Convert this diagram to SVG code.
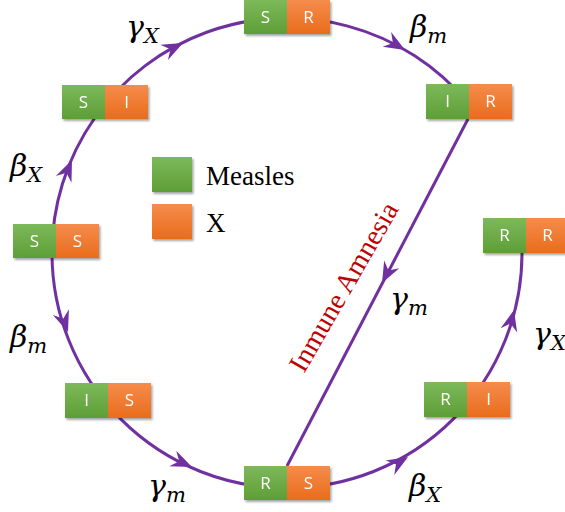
<svg xmlns="http://www.w3.org/2000/svg" xmlns:xlink="http://www.w3.org/1999/xlink" width="565" height="512" viewBox="0 0 565 512">
<defs>
<linearGradient id="gG" x1="0" y1="0" x2="0" y2="1"><stop offset="0" stop-color="#7DB95A"/><stop offset="1" stop-color="#5E9E36"/></linearGradient>
<linearGradient id="gO" x1="0" y1="0" x2="0" y2="1"><stop offset="0" stop-color="#F58C4C"/><stop offset="1" stop-color="#E96C1C"/></linearGradient>
<filter id="sh" x="-10%" y="-10%" width="130%" height="140%"><feDropShadow dx="1.5" dy="2" stdDeviation="1.2" flood-color="#000" flood-opacity="0.35"/></filter>
<path id="ah" d="M0,0 L-21,-8.5 L-14,0 L-21,8.5 Z" fill="#7030A0"/>
</defs>
<style>
.ln{fill:none;stroke:#7030A0;stroke-width:3}
.g{fill:url(#gG)}
.o{fill:url(#gO)}
.nt{font-family:"Open Sans","Liberation Sans",sans-serif;font-size:17px;fill:#fff;text-anchor:middle}
.m{font-family:"DejaVu Serif","Liberation Serif",serif;font-style:italic;font-size:30px;fill:#000}
.sub{font-size:21px}
.lg{font-family:"Liberation Serif","Times New Roman",serif;font-size:27px;fill:#000}
.am{font-family:"Liberation Serif","Times New Roman",serif;font-size:28px;fill:#C00000}
</style>
<g id="connectors">
<path class="ln" d="M52 253 A235 235 0 0 1 467 102"/>
<path class="ln" d="M52 253 A235 235 0 0 0 522 253"/>
<line class="ln" x1="468" y1="119" x2="287" y2="466"/>
<use xlink:href="#ah" transform="translate(183,43) rotate(-26.4)"/>
<use xlink:href="#ah" transform="translate(405,50) rotate(30.2)"/>
<use xlink:href="#ah" transform="translate(72,160) rotate(-66.6)"/>
<use xlink:href="#ah" transform="translate(68,332) rotate(70.2)"/>
<use xlink:href="#ah" transform="translate(192,467) rotate(23.9)"/>
<use xlink:href="#ah" transform="translate(408,457) rotate(-30.7)"/>
<use xlink:href="#ah" transform="translate(514,310) rotate(-75.9)"/>
<use xlink:href="#ah" transform="translate(382,283) rotate(117.5)"/>
</g>
<g id="labels">
<text class="m" x="126" y="37">γ<tspan class="sub" dy="6">X</tspan></text>
<text class="m" x="410" y="37">β<tspan class="sub" dy="6">m</tspan></text>
<text class="m" x="10" y="176">β<tspan class="sub" dy="6">X</tspan></text>
<text class="m" x="10" y="347">β<tspan class="sub" dy="6">m</tspan></text>
<text class="m" x="148" y="496">γ<tspan class="sub" dy="6">m</tspan></text>
<text class="m" x="390" y="309">γ<tspan class="sub" dy="6">m</tspan></text>
<text class="m" x="533" y="344">γ<tspan class="sub" dy="6">X</tspan></text>
<text class="m" x="409" y="496">β<tspan class="sub" dy="6">X</tspan></text>
<text class="am" transform="translate(304,374) rotate(-60)">Inmune Amnesia</text>
</g>
<g id="legend">
<rect class="g" x="152" y="157" width="40" height="35" filter="url(#sh)"/>
<rect class="o" x="152" y="204" width="40" height="35" filter="url(#sh)"/>
<text class="lg" x="206" y="185">Measles</text>
<text class="lg" x="206" y="232">X</text>
</g>
<g id="node-SR" filter="url(#sh)"><rect class="g" x="244" y="0" width="43" height="34"/><rect class="o" x="287" y="0" width="43" height="34"/><text class="nt" x="265.5" y="23">S</text><text class="nt" x="308.5" y="23">R</text></g>
<g id="node-IR" filter="url(#sh)"><rect class="g" x="426" y="84" width="43" height="35"/><rect class="o" x="469" y="84" width="43" height="35"/><text class="nt" x="447.5" y="107">I</text><text class="nt" x="490.5" y="107">R</text></g>
<g id="node-SI" filter="url(#sh)"><rect class="g" x="62" y="85" width="43" height="34"/><rect class="o" x="105" y="85" width="43" height="34"/><text class="nt" x="83.5" y="108">S</text><text class="nt" x="126.5" y="108">I</text></g>
<g id="node-SS" filter="url(#sh)"><rect class="g" x="13" y="224" width="43" height="34"/><rect class="o" x="56" y="224" width="43" height="34"/><text class="nt" x="34.5" y="247">S</text><text class="nt" x="77.5" y="247">S</text></g>
<g id="node-IS" filter="url(#sh)"><rect class="g" x="65" y="383" width="43" height="35"/><rect class="o" x="108" y="383" width="43" height="35"/><text class="nt" x="86.5" y="406">I</text><text class="nt" x="129.5" y="406">S</text></g>
<g id="node-RS" filter="url(#sh)"><rect class="g" x="244" y="466" width="43" height="34"/><rect class="o" x="287" y="466" width="43" height="34"/><text class="nt" x="265.5" y="489">R</text><text class="nt" x="308.5" y="489">S</text></g>
<g id="node-RI" filter="url(#sh)"><rect class="g" x="424" y="382" width="43" height="35"/><rect class="o" x="467" y="382" width="43" height="35"/><text class="nt" x="445.5" y="405">R</text><text class="nt" x="488.5" y="405">I</text></g>
<g id="node-RR" filter="url(#sh)"><rect class="g" x="483" y="218" width="43" height="35"/><rect class="o" x="526" y="218" width="43" height="35"/><text class="nt" x="504.5" y="241">R</text><text class="nt" x="547.5" y="241">R</text></g>
</svg>
